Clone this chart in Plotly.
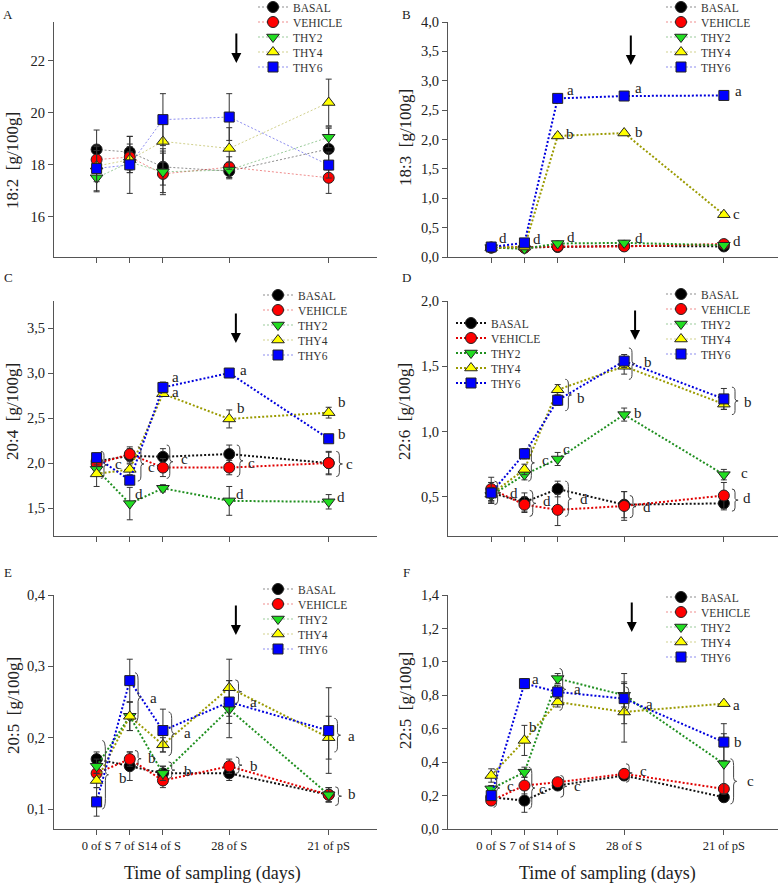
import plotly.graph_objects as go

# ---------------- data ----------------
DAYS = [0, 7, 14, 28, 49]
DAY_LABELS = ["0 of S", "7 of S", "14 of S", "28 of S", "21 of pS"]
GROUPS = ["BASAL", "VEHICLE", "THY2", "THY4", "THY6"]

# rows: BASAL, VEHICLE, THY2, THY4, THY6 ; columns: DAYS
A_MEAN = [[18.59, 18.49, 17.92, 17.76, 18.61],
          [18.20, 18.30, 17.65, 17.91, 17.50],
          [17.50, 18.10, 17.73, 17.80, 19.06],
          [17.95, 18.20, 18.90, 18.63, 20.40],
          [17.86, 18.00, 19.74, 19.84, 17.99]]
A_ERR = [[0.75, 0.60, 0.70, 0.30, 0.80],
         [0.50, 0.50, 0.80, 0.40, 0.60],
         [0.50, 0.40, 0.80, 0.30, 0.40],
         [0.60, 0.50, 0.80, 0.80, 0.90],
         [0.90, 1.10, 1.00, 0.90, 0.50]]

B_MEAN = [[0.16, 0.16, 0.17, 0.19, 0.18],
          [0.16, 0.16, 0.18, 0.18, 0.22],
          [0.16, 0.14, 0.23, 0.24, 0.20],
          [0.16, 0.17, 2.06, 2.11, 0.72],
          [0.17, 0.24, 2.70, 2.74, 2.75]]
B_ERR = [[0.02, 0.02, 0.02, 0.02, 0.02],
         [0.02, 0.02, 0.02, 0.02, 0.02],
         [0.02, 0.02, 0.02, 0.02, 0.02],
         [0.02, 0.02, 0.04, 0.03, 0.03],
         [0.02, 0.03, 0.03, 0.05, 0.04]]

C_MEAN = [[2.02, 2.08, 2.07, 2.10, 2.00],
          [1.99, 2.10, 1.95, 1.95, 2.00],
          [1.93, 1.55, 1.72, 1.58, 1.57],
          [1.88, 1.93, 2.77, 2.49, 2.56],
          [2.06, 1.81, 2.84, 3.00, 2.27]]
C_ERR = [[0.05, 0.08, 0.09, 0.10, 0.12],
         [0.04, 0.08, 0.10, 0.08, 0.13],
         [0.05, 0.18, 0.04, 0.16, 0.08],
         [0.14, 0.06, 0.03, 0.10, 0.06],
         [0.05, 0.05, 0.06, 0.02, 0.03]]

D_MEAN = [[0.53, 0.46, 0.56, 0.44, 0.45],
          [0.56, 0.44, 0.40, 0.43, 0.51],
          [0.51, 0.67, 0.79, 1.13, 0.67],
          [0.52, 0.71, 1.32, 1.50, 1.21],
          [0.53, 0.83, 1.24, 1.54, 1.25]]
D_ERR = [[0.08, 0.07, 0.06, 0.10, 0.05],
         [0.09, 0.06, 0.12, 0.11, 0.10],
         [0.05, 0.04, 0.05, 0.05, 0.04],
         [0.05, 0.04, 0.04, 0.06, 0.04],
         [0.08, 0.04, 0.04, 0.05, 0.08]]

E_MEAN = [[0.17, 0.16, 0.15, 0.15, 0.12],
          [0.15, 0.17, 0.14, 0.16, 0.12],
          [0.16, 0.23, 0.15, 0.24, 0.12],
          [0.14, 0.23, 0.19, 0.27, 0.20],
          [0.11, 0.28, 0.21, 0.25, 0.21]]
E_ERR = [[0.01, 0.02, 0.01, 0.01, 0.01],
         [0.01, 0.01, 0.01, 0.01, 0.01],
         [0.01, 0.02, 0.01, 0.04, 0.01],
         [0.01, 0.02, 0.01, 0.04, 0.03],
         [0.02, 0.03, 0.03, 0.03, 0.06]]

F_MEAN = [[0.19, 0.17, 0.26, 0.32, 0.19],
          [0.17, 0.26, 0.28, 0.33, 0.24],
          [0.24, 0.34, 0.90, 0.80, 0.39],
          [0.32, 0.53, 0.76, 0.70, 0.75],
          [0.20, 0.87, 0.82, 0.78, 0.52]]
F_ERR = [[0.02, 0.07, 0.02, 0.01, 0.01],
         [0.02, 0.05, 0.02, 0.01, 0.02],
         [0.02, 0.03, 0.03, 0.07, 0.18],
         [0.04, 0.09, 0.03, 0.18, 0.01],
         [0.03, 0.03, 0.04, 0.15, 0.11]]

A_YTICKS = [16, 18, 20, 22]
B_YTICKS = [0.0, 0.5, 1.0, 1.5, 2.0, 2.5, 3.0, 3.5, 4.0]
C_YTICKS = [1.5, 2.0, 2.5, 3.0, 3.5]
D_YTICKS = [0.5, 1.0, 1.5, 2.0]
E_YTICKS = [0.1, 0.2, 0.3, 0.4]
F_YTICKS = [0.0, 0.2, 0.4, 0.6, 0.8, 1.0, 1.2, 1.4]

Y_TITLES = ["18:2  [g/100g]", "18:3  [g/100g]", "20:4  [g/100g]",
            "22:6  [g/100g]", "20:5  [g/100g]", "22:5  [g/100g]"]
PANEL_TAGS = ["A", "B", "C", "D", "E", "F"]
X_TITLE = "Time of sampling (days)"

# significance letters (day, value, letter) and braces (day, low, high)
A_LETTERS = []
A_BRACES = []
B_LETTERS = [(1.3, 0.33, "d"), (8.4, 0.31, "d"), (15.5, 2.84, "a"), (15.3, 2.10, "b"),
             (15.5, 0.34, "d"), (29.8, 2.88, "a"), (29.9, 2.13, "b"), (29.8, 0.33, "d"),
             (50.9, 2.83, "a"), (50.5, 0.74, "c"), (50.5, 0.27, "d")]
B_BRACES = []
C_LETTERS = [(3.4, 1.99, "c"), (10.4, 1.96, "c"), (17.3, 2.04, "c"), (31.5, 2.00, "c"),
             (52.3, 1.99, "c"), (7.6, 1.66, "d"), (29.1, 1.66, "d"), (50.3, 1.62, "d"),
             (15.4, 2.96, "a"), (15.4, 2.79, "a"), (29.9, 3.03, "a"), (29.2, 2.61, "b"),
             (50.6, 2.68, "b"), (50.6, 2.32, "b")]
C_BRACES = [(0.9, 1.83, 2.13), (8.7, 1.80, 2.18), (14.8, 1.83, 2.20), (29.6, 1.85, 2.20),
            (50.6, 1.85, 2.13)]
D_LETTERS = [(17.7, 1.26, "b"), (31.8, 1.53, "b"), (52.8, 1.23, "b"), (29.6, 1.14, "b"),
             (10.2, 0.78, "c"), (14.8, 0.87, "c"), (52.1, 0.68, "c"), (3.5, 0.53, "d"),
             (10.4, 0.47, "d"), (18.2, 0.48, "d"), (31.5, 0.42, "d"), (52.7, 0.49, "d")]
D_BRACES = [(15.6, 1.16, 1.40), (29.0, 1.40, 1.64), (50.7, 1.13, 1.34), (7.8, 0.62, 0.90),
            (0.7, 0.44, 0.62), (8.1, 0.35, 0.55), (15.6, 0.35, 0.62), (29.2, 0.34, 0.51),
            (50.7, 0.39, 0.56)]
E_LETTERS = [(4.2, 0.144, "b"), (10.9, 0.255, "a"), (10.5, 0.171, "b"), (18.1, 0.206, "a"),
             (18.1, 0.154, "b"), (31.9, 0.250, "a"), (31.9, 0.161, "b"), (52.7, 0.203, "a"),
             (52.7, 0.121, "b")]
E_BRACES = [(1.2, 0.100, 0.196), (8.1, 0.222, 0.291), (8.1, 0.159, 0.182), (15.2, 0.175, 0.236),
            (15.2, 0.143, 0.166), (29.3, 0.248, 0.281), (29.4, 0.150, 0.173), (50.2, 0.180, 0.227),
            (50.4, 0.105, 0.131)]
F_LETTERS = [(8.2, 0.90, "a"), (7.5, 0.61, "b"), (17.0, 0.84, "a"), (32.1, 0.75, "a"),
             (50.4, 0.74, "a"), (50.8, 0.52, "b"), (3.0, 0.255, "c"), (9.6, 0.24, "c"),
             (17.0, 0.255, "c"), (30.9, 0.345, "c"), (53.4, 0.285, "c")]
F_BRACES = [(14.4, 0.71, 0.96), (28.3, 0.71, 0.85), (0.5, 0.13, 0.36), (7.9, 0.12, 0.37),
            (14.6, 0.19, 0.32), (28.4, 0.28, 0.39), (50.4, 0.15, 0.42)]

# ---------------- style / layout ----------------
FONT = "Liberation Serif"
SYMBOLS = ["circle", "circle", "triangle-down", "triangle-up", "square"]
FILL = ["#000000", "#ff0000", "#22dd22", "#ffff00", "#0000ff"]
LINE = ["#111111", "#e00000", "#1f8f1f", "#9a9a00", "#0000dd"]
FAINT = ["rgba(0,0,0,0.45)", "rgba(220,0,0,0.45)", "rgba(30,140,30,0.45)",
         "rgba(150,150,0,0.45)", "rgba(0,0,220,0.45)"]
SIZES = [11, 11, 11, 11, 10]
W, H = 780, 886

def fx(p):
    return p / W

def fy(p):
    return 1 - p / H

COLS = [(54, 377, [-9.0, 59.2]), (448, 778, [-9.1, 60.4])]
ROWS = [(22, 257), (301, 536), (595, 829)]

panels = [
    dict(mean=A_MEAN, err=A_ERR, yt=A_YTICKS, yr=[14.45, 23.5], fmt="d", let=A_LETTERS, br=A_BRACES,
         thin=True, leg=(273, 7), arrow=(29.5, 0.826), title_y=161),
    dict(mean=B_MEAN, err=B_ERR, yt=B_YTICKS, yr=[0, 4.0], fmt=".1f", let=B_LETTERS, br=B_BRACES,
         thin=False, leg=(681, 7), arrow=(29.4, 0.817), title_y=138),
    dict(mean=C_MEAN, err=C_ERR, yt=C_YTICKS, yr=[1.19, 3.8], fmt=".1f", let=C_LETTERS, br=C_BRACES,
         thin=False, leg=(278, 295), arrow=(29.4, 0.821), title_y=412),
    dict(mean=D_MEAN, err=D_ERR, yt=D_YTICKS, yr=[0.2, 2.0], fmt=".1f", let=D_LETTERS, br=D_BRACES,
         thin=False, leg=(681, 294), arrow=(30.3, 0.834), title_y=412),
    dict(mean=E_MEAN, err=E_ERR, yt=E_YTICKS, yr=[0.072, 0.4], fmt=".1f", let=E_LETTERS, br=E_BRACES,
         thin=False, leg=(278, 589), arrow=(29.4, 0.829), title_y=706),
    dict(mean=F_MEAN, err=F_ERR, yt=F_YTICKS, yr=[0, 1.4], fmt=".1f", let=F_LETTERS, br=F_BRACES,
         thin=False, leg=(681, 597), arrow=(29.6, 0.842), title_y=701),
]

LEG_OFFSET = 20   # px from legend left edge to marker centre
LEG_STEP = 15

fig = go.Figure()
layout = dict(width=W, height=H, margin=dict(l=0, r=0, t=0, b=0, autoexpand=False),
              paper_bgcolor="white", plot_bgcolor="white", separators=",.",
              font=dict(family=FONT, color="#222"))
annotations = []
shapes = []
legend_count = [0]

def new_legend(mx, my):
    legend_count[0] += 1
    n = legend_count[0]
    name = "legend" if n == 1 else f"legend{n}"
    layout[name] = dict(x=fx(mx - LEG_OFFSET), y=fy(my), xanchor="left", yanchor="middle",
                        bgcolor="rgba(0,0,0,0)", borderwidth=0,
                        font=dict(family=FONT, size=11.5, color="#333"))
    return name

def brace_path(x, y0, y1, w=1.3):
    h = y1 - y0
    ym = (y0 + y1) / 2
    xm = x + w / 2
    return (f"M {x},{y1} Q {xm},{y1} {xm},{y1 - 0.15*h} L {xm},{ym + 0.08*h} "
            f"Q {xm},{ym} {x + w},{ym} Q {xm},{ym} {xm},{ym - 0.08*h} "
            f"L {xm},{y0 + 0.15*h} Q {xm},{y0} {x},{y0}")

for i, p in enumerate(panels):
    k = i + 1
    col = COLS[i % 2]
    row = ROWS[i // 2]
    xa, ya = ("x", "y") if k == 1 else (f"x{k}", f"y{k}")
    xkey, ykey = ("xaxis", "yaxis") if k == 1 else (f"xaxis{k}", f"yaxis{k}")
    bottom = i >= 4
    layout[xkey] = dict(domain=[fx(col[0]), fx(col[1])], range=col[2], anchor=ya,
                        tickvals=DAYS, ticktext=DAY_LABELS, showticklabels=bottom,
                        tickangle=0,
                        showline=True, linecolor="#555", linewidth=1, ticks="outside",
                        ticklen=5, tickcolor="#555", showgrid=False, zeroline=False,
                        tickfont=dict(family=FONT, size=12.5, color="#222"))
    layout[ykey] = dict(domain=[fy(row[1]), fy(row[0])], range=p["yr"], anchor=xa,
                        tickvals=p["yt"], tickformat=p["fmt"],
                        showline=True, linecolor="#555", linewidth=1, ticks="outside",
                        ticklen=5, tickcolor="#555", showgrid=False, zeroline=False,
                        tickfont=dict(family=FONT, size=14.5, color="#222"))

    is_d = PANEL_TAGS[i] == "D"
    for g in range(5):
        lw = 1 if p["thin"] else 2
        lc = FAINT[g] if p["thin"] else LINE[g]
        tr = dict(x=DAYS, y=p["mean"][g], mode="lines+markers", xaxis=xa, yaxis=ya,
                  name=GROUPS[g],
                  line=dict(color=lc, width=lw, dash="2px,2px"),
                  marker=dict(symbol=SYMBOLS[g], size=SIZES[g], color=FILL[g],
                              line=dict(color="#222", width=1)),
                  error_y=dict(type="data", array=p["err"][g], color="#333",
                               thickness=1, width=3))
        if is_d:
            tr["legend"] = new_legend(471, 323 + g * LEG_STEP)
            tr["showlegend"] = True
        else:
            tr["showlegend"] = False
        fig.add_trace(go.Scatter(**tr))

    # panel legend (thin faint dotted sample lines)
    for g in range(5):
        lname = new_legend(p["leg"][0], p["leg"][1] + g * LEG_STEP)
        fig.add_trace(go.Scatter(x=[None], y=[None], mode="lines+markers", xaxis=xa, yaxis=ya,
                                 name=GROUPS[g], legend=lname, showlegend=True,
                                 line=dict(color=FAINT[g], width=1, dash="2px,2px"),
                                 marker=dict(symbol=SYMBOLS[g], size=SIZES[g], color=FILL[g],
                                             line=dict(color="#222", width=1))))

    # significance letters and braces
    for (dx, vy, t) in p["let"]:
        annotations.append(dict(x=dx, y=vy, xref=xa, yref=ya, text=t, showarrow=False,
                                xanchor="left", yanchor="middle",
                                font=dict(family=FONT, size=15, color="#222")))
    for (dx, y0, y1) in p["br"]:
        shapes.append(dict(type="path", path=brace_path(dx, y0, y1), xref=xa, yref=ya,
                           line=dict(color="#444", width=1)))

    # arrow
    annotations.append(dict(x=p["arrow"][0], y=p["arrow"][1], xref=xa, yref=f"{ya} domain",
                            text="", showarrow=True, ax=0, ay=-31, arrowhead=2,
                            arrowsize=1, arrowwidth=2, arrowcolor="black"))
    # y title
    tx = 13 if i % 2 == 0 else 405
    annotations.append(dict(x=fx(tx), y=fy(p["title_y"]), xref="paper", yref="paper",
                            text=Y_TITLES[i], textangle=-90, showarrow=False,
                            xanchor="center", yanchor="middle",
                            font=dict(family=FONT, size=17, color="#222")))
    # panel tag
    lx = 8 if i % 2 == 0 else 406
    ly = [15, 277, 572][i // 2]
    annotations.append(dict(x=fx(lx), y=fy(ly), xref="paper", yref="paper",
                            text=PANEL_TAGS[i], showarrow=False, xanchor="center",
                            yanchor="middle", font=dict(family=FONT, size=13, color="#222")))
    if bottom:
        cx = 213 if i % 2 == 0 else 607
        annotations.append(dict(x=fx(cx), y=fy(873), xref="paper", yref="paper",
                                text=X_TITLE, showarrow=False, xanchor="center",
                                yanchor="middle", font=dict(family=FONT, size=18, color="#222")))

layout["annotations"] = annotations
layout["shapes"] = shapes
fig.update_layout(**layout)
fig.write_html("out.html", config={"displayModeBar": False},
               post_script="document.body.style.margin='0';document.body.style.overflow='hidden';")
